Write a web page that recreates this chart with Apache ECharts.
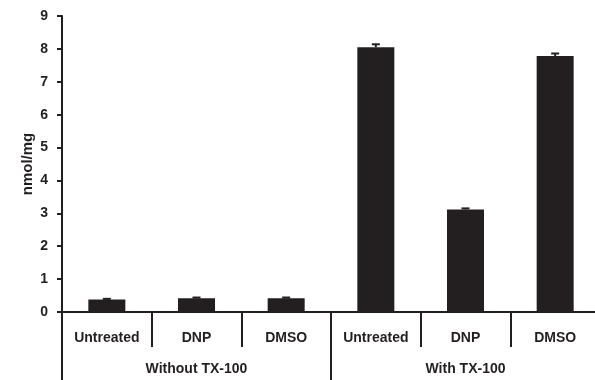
<!DOCTYPE html>
<html><head><meta charset="utf-8">
<script src="https://cdn.jsdelivr.net/npm/echarts@6/dist/echarts.min.js"></script>
<style>html,body{margin:0;padding:0;background:#fff}#c{width:595px;height:380px}</style>
</head><body><div id="c"></div>
<script>
const categories = ['Untreated','DNP','DMSO','Untreated','DNP','DMSO'];
const groups = ['Without TX-100','With TX-100'];
const values = [0.38, 0.42, 0.42, 8.05, 3.12, 7.78];
const errors = [0.02, 0.02, 0.02, 0.09, 0.03, 0.08];
const yTicks = [0,1,2,3,4,5,6,7,8,9];

const chart = echarts.init(document.getElementById('c'), null, {renderer:'canvas'});
const font = 'Liberation Sans, Arial, sans-serif';
chart.setOption({
  animation:false,
  grid:{left:62, top:16, width:538, bottom:68, containLabel:false, outerBoundsMode:'none'},
  xAxis:[{
    type:'category', data:categories, position:'bottom',
    axisLine:{lineStyle:{color:'#231f20', width:2}},
    axisTick:{show:true, alignWithLabel:false, length:35, lineStyle:{color:'#231f20', width:2}},
    axisLabel:{color:'#231f20', fontFamily:font, fontWeight:'bold', fontSize:14, margin:19, interval:0}
  },{
    type:'category', data:groups, position:'bottom', offset:0,
    axisLine:{show:false},
    axisTick:{show:true, length:68, lineStyle:{color:'#231f20', width:2}},
    axisLabel:{color:'#231f20', fontFamily:font, fontWeight:'bold', fontSize:14, margin:50, interval:0}
  }],
  yAxis:{
    type:'value', min:0, max:9, interval:1,
    name:'nmol/mg', nameLocation:'middle', nameGap:27, nameRotate:90, nameMoveOverlap:false,
    nameTextStyle:{color:'#231f20', fontFamily:font, fontWeight:'bold', fontSize:15},
    axisLine:{show:true, lineStyle:{color:'#231f20', width:2}},
    axisTick:{show:true, length:5, lineStyle:{color:'#231f20', width:2}},
    axisLabel:{color:'#231f20', fontFamily:font, fontWeight:'bold', fontSize:14, margin:14,
      formatter: v => yTicks.includes(v) ? String(v) : ''},
    splitLine:{show:false}
  },
  series:[{
    type:'bar', data:values, barWidth:37, xAxisIndex:0,
    itemStyle:{color:'#231f20'}
  },{
    type:'custom', xAxisIndex:0, z:3,
    data: values.map((v,i)=>[i, v, v+errors[i]]),
    renderItem:(params, api)=>{
      const x = api.value(0);
      const p0 = api.coord([x, api.value(1)]);
      const p1 = api.coord([x, api.value(2)]);
      const s = {stroke:'#231f20', lineWidth:2};
      return {type:'group', children:[
        {type:'line', shape:{x1:p0[0], y1:p0[1], x2:p1[0], y2:p1[1]}, style:s},
        {type:'line', shape:{x1:p1[0]-4, y1:p1[1], x2:p1[0]+4, y2:p1[1]}, style:s}
      ]};
    }
  }]
});
</script></body></html>
